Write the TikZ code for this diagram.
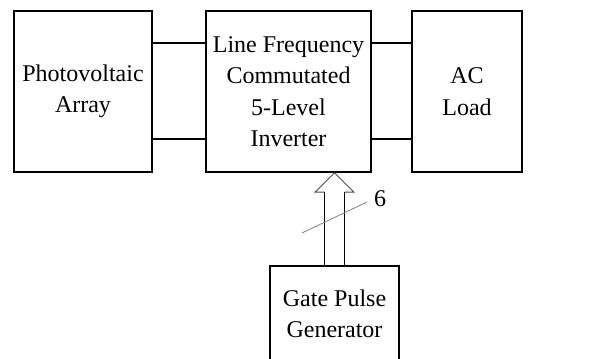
\documentclass[tikz,border=0pt]{standalone}
\usepackage{fontspec}
\setmainfont{Liberation Serif}
\newfontfamily\timesfont{Liberation Serif}
\usetikzlibrary{positioning,calc}

\begin{document}
\begin{tikzpicture}[
    x=1pt, y=1pt,
    font=\timesfont\fontsize{12}{15.75}\selectfont,
    box/.style={draw, line width=0.75pt, rectangle, align=center, minimum height=80.5pt, inner sep=0pt},
    wire/.style={line width=0.75pt},
    slash/.style={line width=0.4pt, gray}
]
\useasboundingbox (0,0) rectangle (303,179.5);
\clip (0,0) rectangle (303,179.5);

% Blocs du haut
\node[box, minimum width=69pt] (pv) at (41.5,133.75) {Photovoltaic\\Array};
\node[box, minimum width=82.5pt] (inv) at (144.25,133.75) {Line Frequency\\Commutated\\5-Level\\Inverter};
\node[box, minimum width=55pt] (load) at (233.5,133.75) {AC\\Load};

% Bloc du bas
\node[box, minimum width=64.5pt, minimum height=48pt] (gen) at (167.25,22.5) {Gate Pulse\\Generator};

% Liaisons
\coordinate (haut) at (0,158);
\coordinate (bas) at (0,110);
\draw[wire] (pv.east |- haut) -- (inv.west |- haut);
\draw[wire] (pv.east |- bas) -- (inv.west |- bas);
\draw[wire] (inv.east |- haut) -- (load.west |- haut);
\draw[wire] (inv.east |- bas) -- (load.west |- bas);

% Fleche double vers l'onduleur
\coordinate (pointe) at (gen.north |- inv.south);
\draw[wire] ($(gen.north)+(-5,0)$) -- ($(gen.north)+(-5,36.5)$) coordinate (sg);
\draw[wire] ($(gen.north)+(5,0)$) -- ($(gen.north)+(5,36.5)$) coordinate (sd);
\draw[line width=0.5pt, black!70] (sg) -- ++(-4.75,0) -- (pointe) -- ($(sd)+(4.75,0)$) -- (sd);

% Nombre de signaux
\draw[slash] (151,63) -- (183.5,78.5);
\node[inner sep=0pt] (nb) at (190,80) {6};

\end{tikzpicture}
\end{document}
